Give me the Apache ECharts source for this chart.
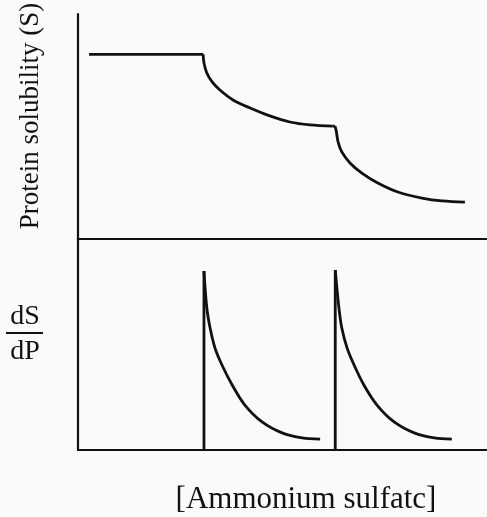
<!DOCTYPE html>
<html>
<head>
<meta charset="utf-8">
<script src="https://cdn.jsdelivr.net/npm/echarts@6/dist/echarts.min.js"></script>
<style>html,body{margin:0;padding:0;background:#fafafa;}#c{width:487px;height:517px;}</style>
</head>
<body>
<div id="c"></div>
<script>
// Top panel: protein solubility S vs [ammonium sulfate] (arbitrary units 0-100)
const solubilityX = [2.7, 30.6, 30.8, 31.5, 32.8, 34.7, 37.9, 42.1, 46.9, 51.8, 56.7, 62.3, 62.8, 63.1, 63.6, 64.5, 66.5, 69.4, 73.3, 78.2, 84.1, 89.0, 94.6];
const solubilityY = [82.1, 82.1, 78.2, 73.8, 69.8, 66.2, 61.8, 58.2, 54.7, 52.0, 50.7, 50.2, 50.2, 48.4, 43.1, 38.7, 33.8, 29.3, 24.9, 20.9, 18.2, 16.9, 16.4];
// Bottom panel: dS/dP peaks (vertical rise, then decay)
const peak1X = [30.8, 30.8, 31.5, 32.3, 33.5, 35.2, 37.7, 40.8, 45.0, 49.9, 54.8, 59.2];
const peak1Y = [0, 84.8, 67.3, 57.8, 48.3, 40.3, 30.8, 21.3, 13.3, 8.1, 5.7, 5.2];
const peak2X = [62.9, 62.9, 63.8, 64.5, 65.8, 67.5, 69.9, 73.1, 77.3, 82.2, 87.1, 91.4];
const peak2Y = [0, 85.3, 67.3, 57.8, 48.3, 40.3, 30.8, 21.3, 13.3, 8.1, 5.7, 5.2];
const yLabelTop = 'Protein solubility (S)';
const fracNum = 'dS';
const fracDen = 'dP';
const xLabel = '[Ammonium sulfatc]';

(function () {
const zip = (a, b) => a.map((v, i) => [v, b[i]]);
const ink = '#111';
const font = '"Liberation Serif", "Times New Roman", serif';
const axisLine = {show: true, onZero: false, lineStyle: {color: ink, width: 2.2}};
const hiddenAxis = {axisTick: {show: false}, axisLabel: {show: false}, splitLine: {show: false}};
const lineSeries = (data, idx, smooth) => ({
  type: 'line', xAxisIndex: idx, yAxisIndex: idx, data: data, symbol: 'none',
  smooth: smooth,
  lineStyle: {color: ink, width: 2.8, cap: 'butt', join: 'miter'}, animation: false, silent: true
});

const solPts = zip(solubilityX, solubilityY);
const p1 = zip(peak1X, peak1Y);
const p2 = zip(peak2X, peak2Y);

const chart = echarts.init(document.getElementById('c'), null, {renderer: 'canvas'});
chart.setOption({
  backgroundColor: '#fafafa',
  animation: false,
  grid: [
    {left: 78, right: 0, top: 14, height: 225},
    {left: 78, right: 0, top: 239, height: 211}
  ],
  xAxis: [
    Object.assign({type: 'value', gridIndex: 0, min: 0, max: 100, axisLine: axisLine}, hiddenAxis),
    Object.assign({type: 'value', gridIndex: 1, min: 0, max: 100, axisLine: axisLine}, hiddenAxis)
  ],
  yAxis: [
    Object.assign({type: 'value', gridIndex: 0, min: 0, max: 100, axisLine: axisLine}, hiddenAxis),
    Object.assign({type: 'value', gridIndex: 1, min: 0, max: 100, axisLine: axisLine}, hiddenAxis)
  ],
  series: [
    lineSeries(solPts.slice(0, 2), 0, false),
    lineSeries(solPts.slice(1, 12), 0, 0.35),
    lineSeries(solPts.slice(11, 13), 0, false),
    lineSeries(solPts.slice(12), 0, 0.35),
    lineSeries(p1.slice(0, 2), 1, false),
    lineSeries(p1.slice(1), 1, 0.35),
    lineSeries(p2.slice(0, 2), 1, false),
    lineSeries(p2.slice(1), 1, 0.35)
  ],
  graphic: [
    {type: 'text', x: 31, y: 116, rotation: Math.PI / 2,
     style: {text: yLabelTop, font: '27px ' + font, fill: ink, align: 'center', verticalAlign: 'middle'}},
    {type: 'text', x: 25, y: 331,
     style: {text: fracNum, font: '28px ' + font, fill: ink, align: 'center', verticalAlign: 'bottom'}},
    {type: 'line', shape: {x1: 6, y1: 333, x2: 43, y2: 333}, style: {stroke: ink, lineWidth: 1.8}},
    {type: 'text', x: 25, y: 366,
     style: {text: fracDen, font: '28px ' + font, fill: ink, align: 'center', verticalAlign: 'bottom'}},
    {type: 'text', x: 306, y: 500,
     style: {text: xLabel, font: '31px ' + font, fill: ink, align: 'center', verticalAlign: 'middle'}}
  ]
});
})();
</script>
</body>
</html>
